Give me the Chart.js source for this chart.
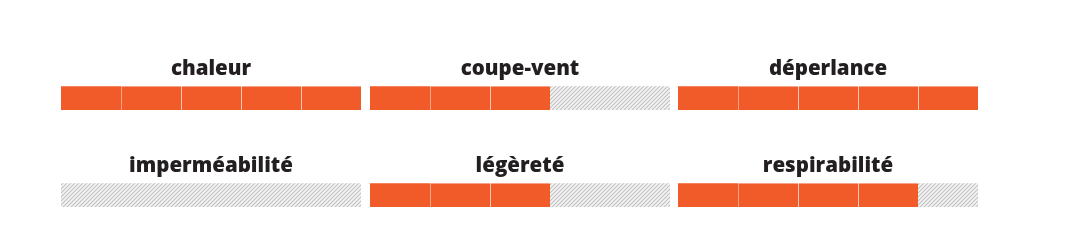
<!DOCTYPE html>
<html>
<head>
<meta charset="utf-8">
<script src="https://cdn.jsdelivr.net/npm/chart.js@4"></script>
<style>
  html, body { margin: 0; padding: 0; background: #fff; }
  body { width: 1067px; height: 245px; position: relative; overflow: hidden; }
  canvas { position: absolute; }
</style>
</head>
<body>
<canvas id="c0" width="300" height="54"></canvas>
<canvas id="c1" width="300" height="54"></canvas>
<canvas id="c2" width="300" height="54"></canvas>
<canvas id="c3" width="300" height="54"></canvas>
<canvas id="c4" width="300" height="54"></canvas>
<canvas id="c5" width="300" height="54"></canvas>
<script>
// ================= DATA =================
const criteria = ["chaleur", "coupe-vent", "déperlance", "imperméabilité", "légèreté", "respirabilité"];
const scores = [5, 3, 5, 0, 3, 4];
const maxScore = 5;

// ================= LAYOUT =================
const colLeft = [61, 370, 678];
const rowTop = [56, 153];

const ORANGE = "#f15a29";
const FONT = "'Open Sans', sans-serif";

// ================= HATCH =================
function hatch() {
  const t = document.createElement("canvas");
  t.width = 4; t.height = 4;
  const g = t.getContext("2d");
  g.fillStyle = "#f5f5f5";
  g.fillRect(0, 0, 4, 4);
  g.strokeStyle = "#c2c2c2";
  g.lineWidth = 1.2;
  g.beginPath();
  g.moveTo(-1, 5); g.lineTo(5, -1);
  g.moveTo(-1, 1); g.lineTo(1, -1);
  g.moveTo(3, 5); g.lineTo(5, 3);
  g.stroke();
  return g.createPattern(t, "repeat");
}
const pattern = hatch();

// ================= CHARTS =================
criteria.forEach((name, i) => {
  const cv = document.getElementById("c" + i);
  cv.style.left = colLeft[i % 3] + "px";
  cv.style.top = rowTop[Math.floor(i / 3)] + "px";

  let score = scores[i];
  let datasets = [];
  for (let k = 0; k < maxScore; k++) {
    let on = k < score;
    datasets.push({
      data: [1],
      backgroundColor: on ? ORANGE : pattern,
      borderColor: "#ffffff",
      borderWidth: on && k > 0 ? { left: 1, right: 0, top: 0, bottom: 0 } : 0,
      borderSkipped: false,
      barPercentage: 1,
      categoryPercentage: 1
    });
  }

  new Chart(cv, {
    type: "bar",
    data: { labels: [name], datasets },
    options: {
      indexAxis: "y",
      responsive: false,
      animation: false,
      layout: { padding: 0 },
      plugins: {
        legend: { display: false },
        tooltip: { enabled: false },
        title: {
          display: true,
          text: name,
          color: "#231f20",
          font: { family: FONT, size: 20.5, weight: "800", lineHeight: 1.2 },
          padding: { top: 1, bottom: 4.6 }
        }
      },
      scales: {
        x: { stacked: true, min: 0, max: maxScore, display: false },
        y: { stacked: true, display: false }
      }
    }
  });
});
</script>
</body>
</html>
